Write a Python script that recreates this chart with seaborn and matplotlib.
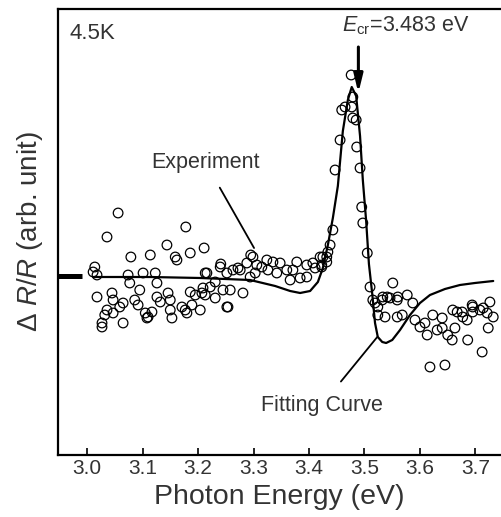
import matplotlib
matplotlib.use("Agg")
import matplotlib.pyplot as plt
import seaborn as sns
import pandas as pd

# ---- data (photon energy in eV, dR/R in arbitrary units) ----
exp_energy = [
    3.056, 3.036, 3.178, 3.144, 3.079, 3.114, 3.159, 3.162, 3.186, 3.211,
    3.014, 3.011, 3.018, 3.074, 3.101, 3.123, 3.213, 3.077, 3.095, 3.126,
    3.018, 3.045, 3.047, 3.036, 3.065, 3.059, 3.086, 3.092, 3.126, 3.132,
    3.146, 3.150, 3.186, 3.195, 3.207, 3.171, 3.189, 3.204, 3.032, 3.027,
    3.047, 3.065, 3.105, 3.110, 3.150, 3.153, 3.117, 3.180, 3.027, 3.108,
    3.177, 3.252,
    3.241, 3.295, 3.216, 3.231, 3.222, 3.252, 3.263, 3.272, 3.209, 3.213,
    3.231, 3.245, 3.258, 3.281, 3.254, 3.294, 3.303, 3.315, 3.324, 3.335,
    3.348, 3.326, 3.342, 3.360, 3.371, 3.366, 3.384, 3.396, 3.378, 3.396,
    3.411, 3.423, 3.432, 3.434, 3.288, 3.306, 3.276, 3.240, 3.299, 3.407,
    3.420,
    3.476, 3.479, 3.459, 3.465, 3.477, 3.479, 3.485, 3.456, 3.486, 3.447,
    3.492, 3.495, 3.497, 3.443, 3.438, 3.425, 3.432, 3.423, 3.505, 3.510,
    3.515, 3.532, 3.541,
    3.551, 3.533, 3.546, 3.559, 3.577, 3.587, 3.519, 3.524, 3.537, 3.559,
    3.568, 3.591, 3.600, 3.609, 3.623, 3.640, 3.613, 3.631, 3.640, 3.650,
    3.658, 3.663, 3.667, 3.677, 3.685, 3.694, 3.695, 3.708, 3.726, 3.721,
    3.732, 3.723, 3.686, 3.712, 3.618, 3.645, 3.659, 3.676, 3.695, 3.714,
    3.560, 3.524,
]
exp_signal = [
    0.63, 0.39, 0.49, 0.31, 0.19, 0.21, 0.19, 0.16, 0.23, 0.28,
    0.09, 0.04, 0.01, 0.01, 0.03, 0.03, 0.03, -0.07, -0.14, -0.07,
    -0.21, -0.17, -0.24, -0.34, -0.27, -0.31, -0.24, -0.29, -0.21, -0.26,
    -0.17, -0.24, -0.16, -0.19, -0.17, -0.31, -0.29, -0.34, -0.39, -0.47,
    -0.37, -0.47, -0.37, -0.41, -0.34, -0.42, -0.36, -0.37, -0.51, -0.42,
    -0.34, -0.31,
    0.12, 0.21, 0.03, -0.06, -0.11, 0.03, 0.06, 0.08, -0.12, -0.19,
    -0.22, -0.14, -0.14, -0.17, -0.31, -0.01, 0.03, 0.09, 0.16, 0.14,
    0.13, 0.06, 0.03, 0.06, 0.06, -0.04, -0.02, -0.01, 0.14, 0.11,
    0.08, 0.11, 0.19, 0.24, 0.13, 0.11, 0.06, 0.09, 0.19, 0.13,
    0.19,
    2.01, 1.79, 1.66, 1.69, 1.69, 1.58, 1.56, 1.36, 1.29, 1.06,
    1.08, 0.69, 0.53, 0.46, 0.31, 0.19, 0.14, 0.09, 0.23, -0.11,
    -0.24, -0.24, -0.21,
    -0.07, -0.21, -0.22, -0.24, -0.19, -0.27, -0.27, -0.31, -0.41, -0.41,
    -0.39, -0.44, -0.51, -0.47, -0.39, -0.42, -0.59, -0.54, -0.52, -0.59,
    -0.64, -0.52, -0.36, -0.41, -0.44, -0.29, -0.36, -0.34, -0.26, -0.37,
    -0.41, -0.52, -0.64, -0.76, -0.91, -0.89, -0.34, -0.36, -0.31, -0.32,
    -0.21, -0.39,
]

fit_energy = [
    3.011, 3.114, 3.204, 3.294, 3.339, 3.366, 3.384, 3.402, 3.416, 3.425,
    3.434, 3.443, 3.452, 3.461, 3.470, 3.477, 3.485, 3.492, 3.497, 3.503,
    3.508, 3.514, 3.519, 3.524, 3.532, 3.539, 3.550, 3.564, 3.582, 3.600,
    3.618, 3.645, 3.672, 3.699, 3.732,
]
fit_signal = [
    -0.01, -0.01, -0.02, -0.04, -0.10, -0.15, -0.17, -0.15, -0.06, 0.08,
    0.31, 0.58, 0.90, 1.45, 1.76, 1.89, 1.80, 1.40, 0.96, 0.55,
    0.12, -0.18, -0.47, -0.61, -0.66, -0.67, -0.64, -0.54, -0.39, -0.27,
    -0.19, -0.13, -0.09, -0.07, -0.05,
]

x_ticks = [3.0, 3.1, 3.2, 3.3, 3.4, 3.5, 3.6, 3.7]
x_tick_labels = ["3.0", "3.1", "3.2", "3.3", "3.4", "3.5", "3.6", "3.7"]
e_cr = 3.483

exp_df = pd.DataFrame({"energy": exp_energy, "signal": exp_signal})
fit_df = pd.DataFrame({"energy": fit_energy, "signal": fit_signal})

sns.set_theme(style="ticks")
plt.rcParams["font.family"] = ["Liberation Sans", "DejaVu Sans"]
plt.rcParams["mathtext.fontset"] = "custom"
plt.rcParams["mathtext.rm"] = "Liberation Sans"
plt.rcParams["mathtext.it"] = "Liberation Sans:italic"

fig = plt.figure(figsize=(5.01, 5.17), dpi=100)
ax = fig.add_axes([58 / 501, 62 / 517, 443 / 501, 446 / 517])

sns.scatterplot(data=exp_df, x="energy", y="signal", ax=ax, marker="o",
                s=48, facecolors="none", edgecolor="black", linewidth=0.9,
                zorder=2)
sns.lineplot(data=fit_df, x="energy", y="signal", ax=ax, sort=False,
             color="black", linewidth=1.6, zorder=3)

ax.set_xlim(2.9477, 3.746)
ax.set_ylim(-1.79, 2.67)

ax.set_xticks(x_ticks)
ax.set_xticklabels(x_tick_labels)
ax.tick_params(axis="x", direction="in", length=5, width=1.2,
               labelsize=15, pad=3, colors="black", labelcolor="#333333")
ax.set_yticks([0])
ax.set_yticklabels([""])
ax.tick_params(axis="y", direction="in", length=17, width=3.6, colors="black")

for side in ["left", "top", "bottom"]:
    ax.spines[side].set_linewidth(1.6)
    ax.spines[side].set_color("black")
ax.spines["right"].set_visible(False)

ax.set_xlabel("Photon Energy (eV)", fontsize=20.5, color="#333333", labelpad=4)
ax.set_ylabel("Δ $R/R$ (arb. unit)", fontsize=20, color="#333333", labelpad=6)

ax.text(0.027, 0.944, "4.5K", transform=ax.transAxes, fontsize=16,
        color="#333333", ha="left", va="center")
ax.text(0.641, 0.962, r"$E_{\rm cr}$=3.483 eV", transform=ax.transAxes,
        fontsize=15.5, color="#333333", ha="left", va="center")

ax.annotate("", xy=(e_cr + 0.006, 1.83), xytext=(e_cr + 0.006, 2.29),
            arrowprops=dict(arrowstyle="-|>,head_length=0.9,head_width=0.22",
                            color="black", lw=2.2, shrinkA=0, shrinkB=0))

ax.annotate("Experiment", xy=(3.301, 0.28), xytext=(3.214, 1.13),
            fontsize=15.5, color="#333333", ha="center", va="center",
            arrowprops=dict(arrowstyle="-", color="black", lw=1.3,
                            shrinkA=9, shrinkB=0))
ax.annotate("Fitting Curve", xy=(3.523, -0.61), xytext=(3.423, -1.29),
            fontsize=15.5, color="#333333", ha="center", va="center",
            arrowprops=dict(arrowstyle="-", color="black", lw=1.3,
                            shrinkA=9, shrinkB=0))

fig.savefig("out.png", dpi=100)
